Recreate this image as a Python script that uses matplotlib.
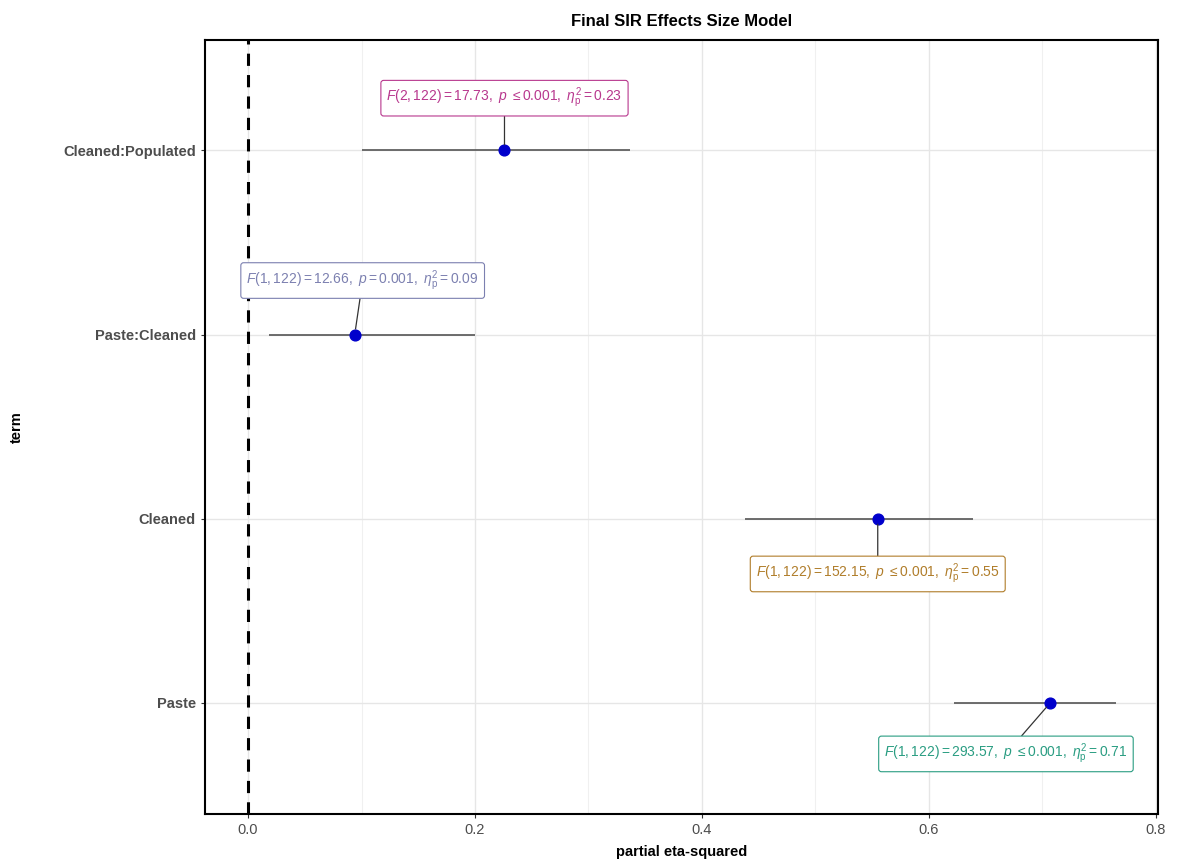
import numpy as np
import matplotlib.pyplot as plt

plt.rcParams['font.family'] = ['Liberation Sans', 'DejaVu Sans']
plt.rcParams['mathtext.fontset'] = 'custom'
plt.rcParams['mathtext.rm'] = 'Liberation Sans'
plt.rcParams['mathtext.it'] = 'Liberation Sans:italic'
plt.rcParams['mathtext.bf'] = 'Liberation Sans:bold'

# effect size data, bottom to top
terms = ['Paste', 'Cleaned', 'Paste:Cleaned', 'Cleaned:Populated']
estimate = [0.707, 0.555, 0.094, 0.226]
ci_low = [0.622, 0.438, 0.018, 0.100]
ci_high = [0.765, 0.639, 0.200, 0.337]
labels = [
    r'$\mathit{F}\mathrm{(1,122) = 293.57,\ }\mathit{p}\ \leq \mathrm{0.001,\ }\eta_{\mathrm{p}}^{2} = \mathrm{0.71}$',
    r'$\mathit{F}\mathrm{(1,122) = 152.15,\ }\mathit{p}\ \leq \mathrm{0.001,\ }\eta_{\mathrm{p}}^{2} = \mathrm{0.55}$',
    r'$\mathit{F}\mathrm{(1,122) = 12.66,\ }\mathit{p} = \mathrm{0.001,\ }\eta_{\mathrm{p}}^{2} = \mathrm{0.09}$',
    r'$\mathit{F}\mathrm{(2,122) = 17.73,\ }\mathit{p}\ \leq \mathrm{0.001,\ }\eta_{\mathrm{p}}^{2} = \mathrm{0.23}$',
]
label_colors = ['#2a9d82', '#b07d2a', '#7c80b0', '#b8388e']
label_xy = [(0.668, 0.723), (0.555, 1.70), (0.101, 3.293), (0.226, 4.283)]

fig = plt.figure(figsize=(11.78, 8.65), dpi=100)
ax = fig.add_axes([0.174, 0.059, 0.809, 0.895])

ypos = np.arange(1, len(terms) + 1)

ax.set_xticks([0.1, 0.3, 0.5, 0.7], minor=True)
ax.grid(True, which='major', color='#e6e6e6', lw=1.0)
ax.grid(True, which='minor', axis='x', color='#f0f0f0', lw=0.8)
ax.set_axisbelow(True)

ax.axvline(0, color='black', ls=(0, (4, 3)), lw=2.2, zorder=2)
ax.hlines(ypos, ci_low, ci_high, color='#555555', lw=1.2, zorder=3)
ax.scatter(estimate, ypos, s=60, color='#0000cc', zorder=4)

for i in range(len(terms)):
    ax.annotate(labels[i], xy=(estimate[i], ypos[i]), xytext=label_xy[i],
                ha='center', va='center', fontsize=10, color=label_colors[i],
                bbox=dict(boxstyle='round,pad=0.4,rounding_size=0.2', fc='white',
                          ec=label_colors[i], lw=0.8),
                arrowprops=dict(arrowstyle='-', color='#333333', lw=0.9,
                                shrinkA=0, shrinkB=4),
                zorder=5)

ax.set_xlim(-0.038, 0.802)
ax.set_ylim(0.397, 4.6)
ax.set_yticks(ypos)
ax.set_yticklabels(terms, fontsize=10.5, fontweight='bold', color='#4d4d4d')
ax.set_xticks([0.0, 0.2, 0.4, 0.6, 0.8])
ax.set_xticklabels(['0.0', '0.2', '0.4', '0.6', '0.8'], fontsize=10.5, color='#4d4d4d')
ax.tick_params(axis='both', which='major', length=3, color='#333333')
ax.tick_params(axis='x', which='minor', length=0)
for sp in ax.spines.values():
    sp.set_linewidth(1.5)
    sp.set_color('black')

ax.set_xlabel('partial eta-squared', fontsize=10.5, fontweight='bold', labelpad=6)
ax.set_ylabel('term', fontsize=10.5, fontweight='bold', labelpad=28)
ax.set_title('Final SIR Effects Size Model', fontsize=12, fontweight='bold', pad=10)

fig.savefig('out.png', dpi=100)
